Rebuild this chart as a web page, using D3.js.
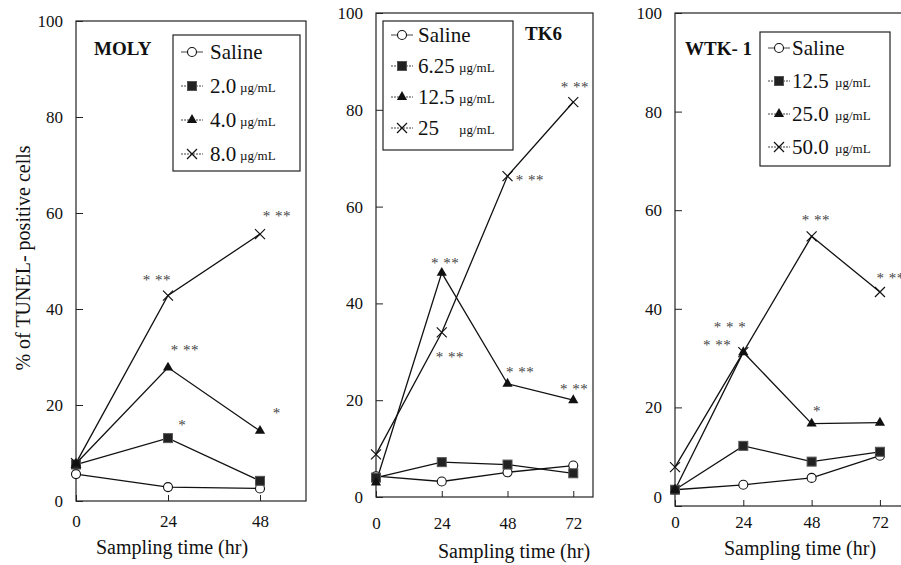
<!DOCTYPE html>
<html><head><meta charset="utf-8">
<script src="https://cdn.jsdelivr.net/npm/d3@7"></script>
<style>body{margin:0;background:#fff}svg{display:block}</style>
</head><body>
<svg id="c" width="901" height="565"></svg>
<script>
// ---- data ----
const hoursMoly = [0, 24, 48];
const hours = [0, 24, 48, 72];
const xTicksMoly = [0, 24, 48];
const xTicks = [0, 24, 48, 72];
const yTicks = [0, 20, 40, 60, 80, 100];

const molySaline = [5.6, 2.9, 2.6];
const moly2 = [7.6, 13.1, 4.2];
const moly4 = [7.8, 27.8, 14.6];
const moly8 = [7.9, 42.8, 55.6];

const tk6Saline = [4.3, 3.2, 5.1, 6.5];
const tk6_625 = [4.0, 7.2, 6.7, 4.9];
const tk6_125 = [3.0, 46.3, 23.4, 20.0];
const tk6_25 = [8.8, 34.0, 66.3, 81.6];

const wtkSaline = [3.3, 4.3, 5.7, 10.2];
const wtk125 = [3.3, 12.2, 9.0, 11.0];
const wtk25 = [3.3, 31.2, 16.7, 16.9];
const wtk50 = [7.9, 31.2, 54.7, 43.4];

const molyLabels = ["2.0", "4.0", "8.0"];
const tk6Labels = ["6.25", "12.5", "25"];
const wtkLabels = ["12.5", "25.0", "50.0"];

// significance marks: [hour, value, text]
const molyStars = [[21.1, 46.1, "* **"], [28.4, 31.5, "* **"], [27.7, 15.9, "*"], [52.4, 59.3, "* **"], [52.4, 18.4, "*"]];
const tk6Stars = [[25.2, 48.3, "* **"], [27.0, 28.9, "* **"], [56.2, 65.5, "* **"], [52.6, 25.8, "* **"], [72.6, 84.7, "* **"], [72.3, 22.3, "* **"]];
const wtkStars = [[19.3, 36.3, "* * *"], [14.8, 32.7, "* **"], [49.5, 58.0, "* **"], [49.9, 19.3, "*"], [75.8, 46.2, "* **"]];

// ---- drawing ----
const svg = d3.select("#c");
const FONT = "'Liberation Serif', 'Times New Roman', serif";
const symbols = ["circle", "square", "triangle", "cross"];

function txt(g, x, y, size, s) {
  return g.append("text").attr("x", x).attr("y", y)
    .style("font-family", FONT).style("font-size", size + "px").attr("fill", "#111").text(s);
}

function marker(g, type, x, y) {
  if (type === "circle") {
    g.append("circle").attr("cx", x).attr("cy", y).attr("r", 4.5)
      .attr("fill", "#fff").attr("stroke", "#111").attr("stroke-width", 1.1);
  } else if (type === "square") {
    g.append("rect").attr("x", x - 4.5).attr("y", y - 4.5).attr("width", 9).attr("height", 9)
      .attr("fill", "#222").attr("stroke", "#555").attr("stroke-width", 1);
  } else if (type === "triangle") {
    g.append("path").attr("d", d3.symbol(d3.symbolTriangle, 45)()).attr("transform", `translate(${x},${y})`)
      .attr("fill", "#111");
  } else {
    g.append("path").attr("d", `M${x-5},${y-5}L${x+5},${y+5}M${x-5},${y+5}L${x+5},${y-5}`)
      .attr("stroke", "#111").attr("stroke-width", 1.2).attr("fill", "none");
  }
}

function panel(cfg) {
  const g = svg.append("g");
  const x = d3.scaleLinear().domain(cfg.xDomain).range([cfg.left, cfg.right]);
  const y = d3.scaleLinear().domain([0, 100]).range([cfg.bottom, cfg.top]);

  g.append("rect").attr("x", cfg.left).attr("y", cfg.top)
    .attr("width", cfg.right - cfg.left).attr("height", cfg.bottom - cfg.top)
    .attr("fill", "none").attr("stroke", "#222").attr("stroke-width", 1.2);

  const ya = g.append("g").attr("transform", `translate(${cfg.left},0)`)
    .call(d3.axisLeft(y).tickValues(yTicks).tickSize(-7).tickPadding(13).tickFormat(d3.format("d")));
  ya.select(".domain").remove();
  ya.selectAll("line").attr("stroke", "#222");
  ya.selectAll("text").style("font-family", FONT).style("font-size", "17px").attr("fill", "#111");
  if (cfg.zeroShift) ya.selectAll("text").filter(d => d === 0).attr("dy", cfg.zeroShift);

  const xa = g.append("g").attr("transform", `translate(0,${cfg.bottom})`)
    .call(d3.axisBottom(x).tickValues(cfg.xTicks).tickSize(-6).tickPadding(cfg.xPad).tickFormat(d3.format("d")));
  xa.select(".domain").remove();
  xa.selectAll("line").attr("stroke", "#222");
  xa.selectAll("text").style("font-family", FONT).style("font-size", "17px").attr("fill", "#111");

  txt(g, cfg.titleX, cfg.titleY, 20, "Sampling time (hr)").attr("text-anchor", "middle");

  const line = d3.line().x((d, i) => x(cfg.hours[i])).y(d => y(d));
  cfg.series.forEach((s) => {
    g.append("path").datum(s).attr("d", line).attr("fill", "none")
      .attr("stroke", "#111").attr("stroke-width", 1.3);
  });
  cfg.series.forEach((s, k) => {
    s.forEach((v, i) => marker(g, symbols[k], x(cfg.hours[i]), y(v)));
  });

  cfg.stars.forEach(([h, v, t]) => {
    txt(g, x(h), y(v) + 5, 15, t).attr("text-anchor", "middle").attr("fill", "#444")
      .attr("letter-spacing", 0.5);
  });

  txt(g, cfg.nameX, cfg.nameY, 19, cfg.name).style("font-weight", "bold");

  const L = cfg.legend;
  g.append("rect").attr("x", L.x0).attr("y", L.y0).attr("width", L.x1 - L.x0).attr("height", L.y1 - L.y0)
    .attr("fill", "#fff").attr("stroke", "#222").attr("stroke-width", 1.2);
  const labels = ["Saline"].concat(cfg.labels);
  labels.forEach((lab, k) => {
    const cy = L.row0 + k * L.step;
    g.append("line").attr("x1", L.x0 + 8).attr("x2", L.x0 + 30).attr("y1", cy).attr("y2", cy)
      .attr("stroke", "#444").attr("stroke-width", 1).attr("stroke-dasharray", k === 0 ? null : "2,1");
    marker(g, symbols[k], L.x0 + 19, cy);
    txt(g, L.x0 + L.textDx, cy + 7, 21, lab);
    if (k > 0) txt(g, L.unitX, cy + 6, 13, "µg/mL");
  });
}

panel({
  left: 76, right: 306, top: 21, bottom: 501, xDomain: [0, 60], xTicks: xTicksMoly, hours: hoursMoly,
  series: [molySaline, moly2, moly4, moly8], labels: molyLabels, stars: molyStars,
  name: "MOLY", nameX: 94, nameY: 55, titleX: 172, titleY: 554, xPad: 14,
  legend: {x0: 173, x1: 300, y0: 35, y1: 171, row0: 52, step: 34, textDx: 37, unitX: 240}
});
panel({
  left: 376, right: 593, top: 13, bottom: 497, xDomain: [0, 79.2], xTicks: xTicks, hours: hours,
  series: [tk6Saline, tk6_625, tk6_125, tk6_25], labels: tk6Labels, stars: tk6Stars,
  name: "TK6", nameX: 525, nameY: 40, titleX: 514, titleY: 558, xPad: 20,
  legend: {x0: 383, x1: 513, y0: 21, y1: 150, row0: 35, step: 31, textDx: 35, unitX: 459}
});
panel({
  left: 675, right: 902.7, top: 13, bottom: 506, xDomain: [0, 80], xTicks: xTicks, hours: hours,
  series: [wtkSaline, wtk125, wtk25, wtk50], labels: wtkLabels, stars: wtkStars,
  name: "WTK- 1", nameX: 685, nameY: 55, titleX: 800, titleY: 555, xPad: 10, zeroShift: "-0.2em",
  legend: {x0: 760, x1: 890, y0: 32, y1: 166, row0: 48, step: 33, textDx: 32, unitX: 835}
});

txt(svg, 0, 0, 20, "% of TUNEL- positive cells").attr("x", null).attr("y", null)
  .attr("transform", "translate(30,258) rotate(-90)").attr("text-anchor", "middle");
</script>
</body></html>
